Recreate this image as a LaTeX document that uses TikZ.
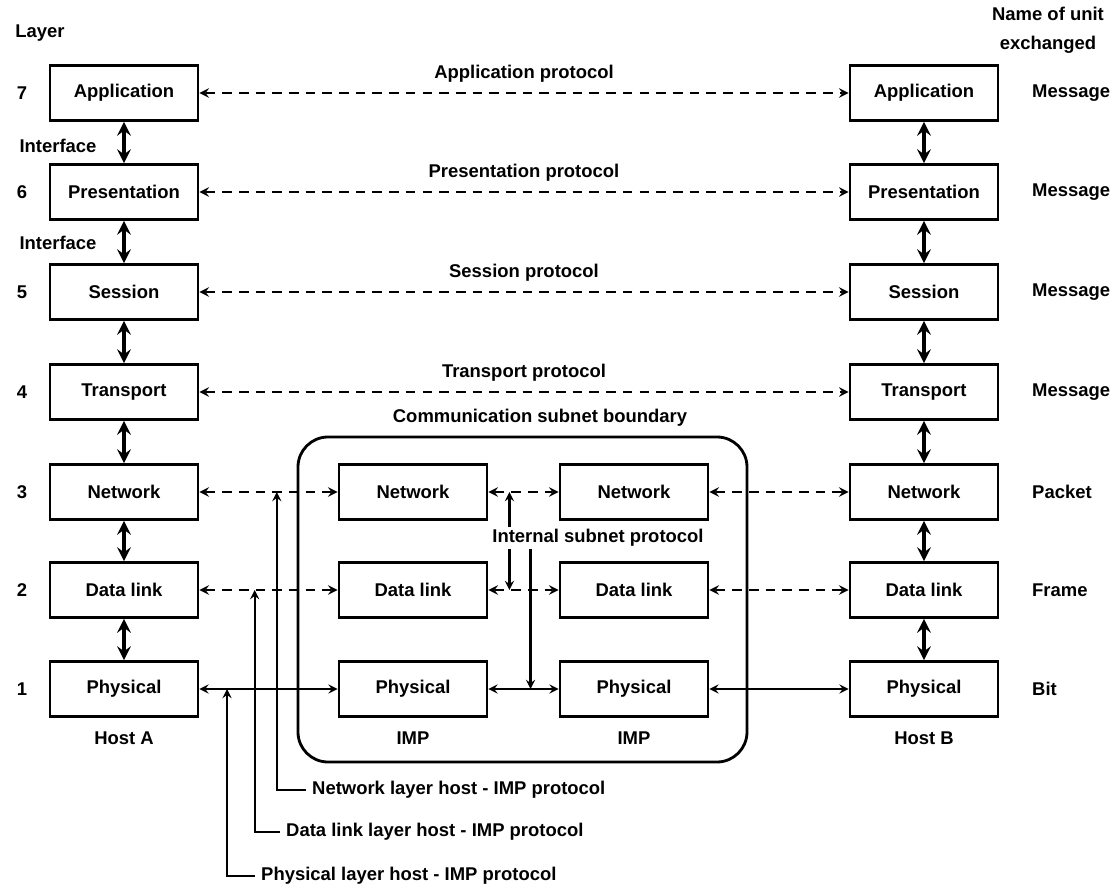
\documentclass[tikz,border=0pt]{standalone}
\usepackage{fontspec}
\setmainfont{Liberation Sans}
\usetikzlibrary{calc}
\begin{document}
\begin{tikzpicture}[x=0.02cm, y=-0.02cm, >=stealth,
		every node/.style={font=\fontsize{10.5}{12.5}\selectfont\bfseries},
		layerbox/.style={draw, line width=1.6pt, minimum width=2.96cm, minimum height=1.1cm},
		peer/.style={<->, line width=1.4pt, dash pattern=on 5.5pt off 4pt},
		wire/.style={<->, line width=1.3pt},
		iface/.style={<->, line width=2.4pt},
		hostimp/.style={->, line width=1.3pt}]
	\useasboundingbox (0,0) rectangle (1120,889);
	
	% the two hosts
	\foreach \name/\txt/\n/\unit/\y in {app/Application/7/Message/93, pres/Presentation/6/Message/192,
			ses/Session/5/Message/292, trans/Transport/4/Message/392, net/Network/3/Packet/492,
			dl/Data link/2/Frame/590, phy/Physical/1/Bit/689} {
		\node [layerbox] (\name A) at (124,\y) {\txt};
		\node [layerbox] (\name B) at (924,\y) {\txt};
		\node (num\n) at (22,\y) {\n};
		\node [anchor=west] (unit\n) at (1026,\y) {\unit};
	}
	\foreach \a/\b in {app/pres, pres/ses, ses/trans, trans/net, net/dl, dl/phy} {
		\draw [iface] (\a A) -- (\b A);
		\draw [iface] (\a B) -- (\b B);
	}
	\node (layerhead) at (40,33) {Layer};
	\node [align=center] (unithead) at (1048,30) {Name of unit\\[4pt]exchanged};
	\node (ifaceA) at (58,146) {Interface};
	\node (ifaceB) at (58,243) {Interface};
	\node (hostA) at (124,738) {Host A};
	\node (hostB) at (924,738) {Host B};
	
	% peer protocols
	\draw [peer] (appA) -- node [above=2pt] {Application protocol} (appB);
	\draw [peer] (presA) -- node [above=2pt] {Presentation protocol} (presB);
	\draw [peer] (sesA) -- node [above=2pt] {Session protocol} (sesB);
	\draw [peer] (transA) -- node [above=2pt] {Transport protocol} (transB);
	
	% subnet with the two IMPs
	\draw [line width=1.6pt, rounded corners=0.6cm] (298,437) rectangle (747,762);
	\node (subnet) at (540,418) {Communication subnet boundary};
	\node [layerbox] (netI) at (413,492) {Network};
	\node [layerbox] (dlI) at (413,590) {Data link};
	\node [layerbox] (phyI) at (413,689) {Physical};
	\node [layerbox] (netJ) at (634,492) {Network};
	\node [layerbox] (dlJ) at (634,590) {Data link};
	\node [layerbox] (phyJ) at (634,689) {Physical};
	\node (impI) at (413,738) {IMP};
	\node (impJ) at (634,738) {IMP};
	
	\draw [peer] (netA) -- (netI);
	\draw [peer] (netI) -- (netJ);
	\draw [peer] (netJ) -- (netB);
	\draw [peer] (dlA) -- (dlI);
	\draw [peer] (dlI) -- (dlJ);
	\draw [peer] (dlJ) -- (dlB);
	\draw [wire] (phyA) -- (phyI);
	\draw [wire] (phyI) -- (phyJ);
	\draw [wire] (phyJ) -- (phyB);
	
	% internal subnet protocol
	\node [inner sep=1pt] (isp) at (598,538) {Internal subnet protocol};
	\coordinate (ispN) at ($(netI.east)!0.3!(netJ.west)$);
	\coordinate (ispD) at ($(dlI.east)!0.3!(dlJ.west)$);
	\coordinate (ispP) at ($(phyI.east)!0.6!(phyJ.west)$);
	\draw [hostimp] (ispN |- isp.north) -- (ispN);
	\draw [hostimp] (ispD |- isp.south) -- (ispD);
	\draw [hostimp] (ispP |- isp.south) -- (ispP);
	
	% host - IMP protocols
	\coordinate (hiN) at ($(netA.east)!0.56!(netI.west)$);
	\coordinate (hiD) at ($(dlA.east)!0.4!(dlI.west)$);
	\coordinate (hiP) at ($(phyA.east)!0.2!(phyI.west)$);
	\node [anchor=west] (hipN) at (306,790) {Network layer host - IMP protocol};
	\node [anchor=west] (hipD) at (280,832) {Data link layer host - IMP protocol};
	\node [anchor=west] (hipP) at (255,876) {Physical layer host - IMP protocol};
	\draw [hostimp] (hipN.west) -| (hiN);
	\draw [hostimp] (hipD.west) -| (hiD);
	\draw [hostimp] (hipP.west) -| (hiP);
\end{tikzpicture}
\end{document}
